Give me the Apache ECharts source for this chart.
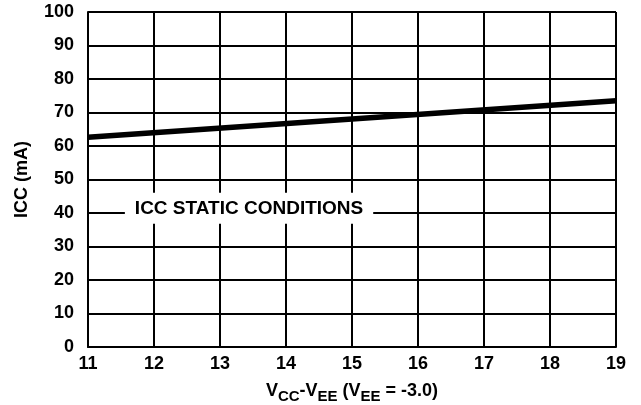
<!DOCTYPE html>
<html>
<head>
<meta charset="utf-8">
<script src="https://cdn.jsdelivr.net/npm/echarts@6/dist/echarts.min.js"></script>
<style>html,body{margin:0;padding:0;background:#fff;}#c{width:641px;height:405px;}</style>
</head>
<body>
<div id="c"></div>
<script>
var xTicks = [11, 12, 13, 14, 15, 16, 17, 18, 19];
var yTicks = [0, 10, 20, 30, 40, 50, 60, 70, 80, 90, 100];
var iccX = [11, 19];
var iccY = [62.6, 73.5];
var annotationText = 'ICC STATIC CONDITIONS';
var annotationAt = [13.44, 41.4];

var FONT = '"Liberation Sans", Arial, sans-serif';
var chart = echarts.init(document.getElementById('c'), null, {renderer: 'canvas'});
var data = iccX.map(function (x, i) { return [x, iccY[i]]; });
chart.setOption({
  animation: false,
  backgroundColor: '#fff',
  grid: {left: 88, right: 25, top: 12, bottom: 58, containLabel: false, outerBoundsMode: 'none'},
  xAxis: {
    type: 'value', min: xTicks[0], max: xTicks[xTicks.length - 1], interval: 1,
    axisLine: {lineStyle: {color: '#000', width: 2}},
    axisTick: {show: false},
    splitLine: {lineStyle: {color: '#000', width: 2}},
    axisLabel: {color: '#000', fontSize: 18, fontWeight: 'bold', fontFamily: FONT, margin: 8},
    name: '{m|V}{s|CC}{m|-V}{s|EE}{m| (V}{s|EE}{m| = -3.0)}',
    nameLocation: 'middle', nameGap: 35,
    nameTextStyle: {
      color: '#000', fontFamily: FONT, fontWeight: 'bold',
      rich: {
        m: {fontSize: 18, fontWeight: 'bold', fontFamily: FONT, color: '#000', verticalAlign: 'top', padding: [0, 0, 0, 0]},
        s: {fontSize: 15, fontWeight: 'bold', fontFamily: FONT, color: '#000', verticalAlign: 'top', padding: [7, 0, 0, 0]}
      }
    }
  },
  yAxis: {
    type: 'value', min: yTicks[0], max: yTicks[yTicks.length - 1], interval: 10,
    axisLine: {show: true, lineStyle: {color: '#000', width: 2}},
    axisTick: {show: false},
    splitLine: {lineStyle: {color: '#000', width: 2}},
    axisLabel: {color: '#000', fontSize: 18, fontWeight: 'bold', fontFamily: FONT, margin: 14},
    name: 'ICC (mA)', nameLocation: 'middle', nameGap: 57,
    nameTextStyle: {color: '#000', fontSize: 18, fontWeight: 'bold', fontFamily: FONT}
  },
  series: [{
    type: 'line', data: data, symbol: 'none', z: 5,
    lineStyle: {color: '#000', width: 5.5},
    markPoint: {
      symbol: 'circle', symbolSize: 1,
      itemStyle: {color: 'rgba(0,0,0,0)'},
      data: [{coord: annotationAt, value: annotationText}],
      label: {
        show: true, position: 'inside', formatter: '{c}',
        color: '#000', fontSize: 19, fontWeight: 'bold', fontFamily: FONT,
        backgroundColor: '#fff', padding: [6, 10, 6, 10]
      }
    }
  }]
});
</script>
</body>
</html>
